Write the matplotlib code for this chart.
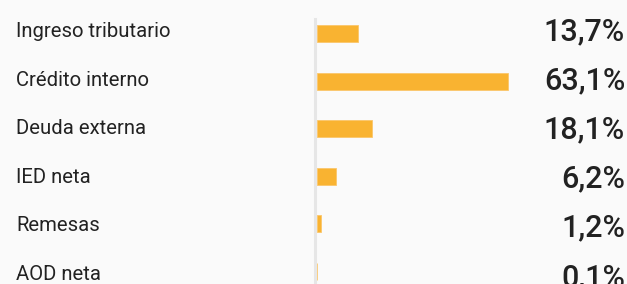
import matplotlib
matplotlib.use("Agg")
import matplotlib.pyplot as plt
from matplotlib.lines import Line2D

categories = ["Ingreso tributario", "Crédito interno", "Deuda externa",
              "IED neta", "Remesas", "AOD neta"]
values = [13.7, 63.1, 18.1, 6.2, 1.2, 0.1]
value_labels = ["13,7%", "63,1%", "18,1%", "6,2%", "1,2%", "0,1%"]

W, H = 627, 284
fig = plt.figure(figsize=(W / 100, H / 100), dpi=100)
fig.patch.set_facecolor("#FAFAFA")

# axes for bars: x from pixel 317 to 627, full height
x0 = 317
ax = fig.add_axes([x0 / W, 0, (W - x0) / W, 1])
ax.set_facecolor("none")
px_per_unit = 3.02
ax.set_xlim(0, (W - x0) / px_per_unit)
c0, step = 33.5, 47.5
ax.set_ylim((H - c0) / step, (0 - c0) / step)
ypos = list(range(len(categories)))
ax.barh(ypos, values, height=17 / step, color="#F9B331", edgecolor="#FBC66A",
        linewidth=0.6)
ax.axis("off")

# vertical baseline line
fig.add_artist(Line2D([315 / W, 315 / W], [0, 1 - 19 / H],
                      transform=fig.transFigure, color="#E6E6E6", linewidth=2.2))

for i, (cat, lab) in enumerate(zip(categories, value_labels)):
    yb = 37.3 + 48.5 * i
    fig.text(16 / W, 1 - yb / H, cat, fontsize=14.6, family="Roboto",
             color="#222222", va="baseline", ha="left")
    yv = 40 + 49.2 * i
    fig.text(625 / W, 1 - yv / H, lab, fontsize=22, family="Roboto",
             fontweight="medium", color="#222222", va="baseline", ha="right")

fig.savefig("out.png", dpi=100, facecolor=fig.get_facecolor())
